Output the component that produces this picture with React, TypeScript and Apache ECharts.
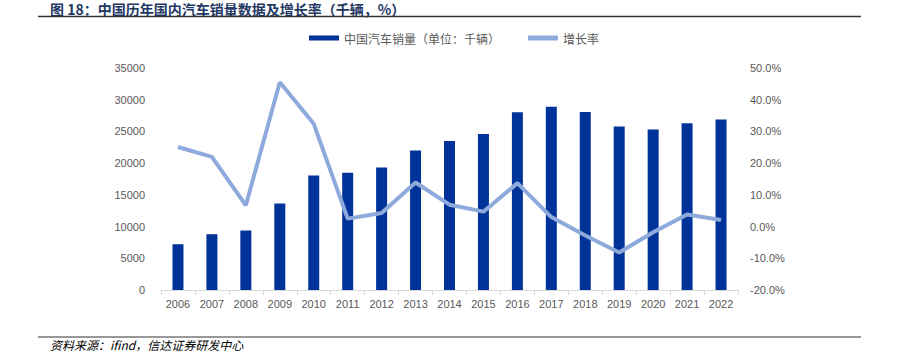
import React, { useEffect, useRef } from "react";
import * as echarts from "echarts";

const years = ["2006","2007","2008","2009","2010","2011","2012","2013","2014","2015","2016","2017","2018","2019","2020","2021","2022"];
const sales = [7216, 8791, 9381, 13645, 18062, 18505, 19306, 21984, 23492, 24598, 28028, 28879, 28081, 25769, 25311, 26275, 26864];
const growth = [25.1, 22.0, 6.7, 45.5, 32.4, 2.5, 4.3, 13.9, 6.9, 4.7, 13.7, 3.0, -2.8, -8.2, -1.8, 3.8, 2.1];
const titleText = "图 18：中国历年国内汽车销量数据及增长率（千辆，%）";
const sourceText = "资料来源：ifind，信达证券研发中心";
const barName = "中国汽车销量（单位：千辆）";
const lineName = "增长率";

export default function App() {
  const ref = useRef<HTMLDivElement>(null);
  useEffect(() => {
    document.body.style.margin = "0";
    const chart = echarts.init(ref.current!, null, { renderer: "svg" });
    const axisLabel = { color: "#595959", fontSize: 11, fontFamily: "Liberation Sans, Arial, sans-serif" };
    chart.setOption({
      animation: false,
      backgroundColor: "#fff",
      grid: { left: 161, right: 166, top: 68, bottom: 61, containLabel: false },
      legend: {
        top: 27,
        left: 304,
        itemGap: 28,
        itemWidth: 30,
        itemHeight: 5,
        textStyle: { color: "#595959", fontSize: 12, fontFamily: "Noto Sans CJK SC" },
        data: [
          { name: barName, icon: "rect" },
          { name: lineName, icon: "roundRect" },
        ],
      },
      xAxis: {
        type: "category",
        data: years,
        axisLine: { lineStyle: { color: "#D9D9D9" } },
        axisTick: { show: true, lineStyle: { color: "#D9D9D9" }, length: 5 },
        axisLabel: { ...axisLabel, margin: 8, interval: 0 },
      },
      yAxis: [
        {
          type: "value",
          min: 0,
          max: 35000,
          interval: 5000,
          splitLine: { show: false },
          axisLine: { show: false },
          axisTick: { show: false },
          axisLabel: { ...axisLabel, margin: 16, formatter: (v: number) => String(v) },
        },
        {
          type: "value",
          min: -20,
          max: 50,
          interval: 10,
          splitLine: { show: false },
          axisLine: { show: false },
          axisTick: { show: false },
          axisLabel: { ...axisLabel, margin: 12, formatter: (v: number) => v.toFixed(1) + "%" },
        },
      ],
      series: [
        {
          name: barName,
          type: "bar",
          data: sales,
          barWidth: 11,
          itemStyle: { color: "#003399" },
        },
        {
          name: lineName,
          type: "line",
          yAxisIndex: 1,
          data: growth,
          symbol: "none",
          lineStyle: { color: "#8EA9DB", width: 4 },
          itemStyle: { color: "#8EA9DB" },
        },
      ],
      graphic: [
        {
          type: "text",
          x: 50,
          y: 9,
          style: { text: titleText, fill: "#1F3864", font: "bold 14px 'Noto Sans CJK SC'", lineHeight: 14, verticalAlign: "middle" },
        },
        {
          type: "line",
          shape: { x1: 38, y1: 16.5, x2: 861, y2: 16.5 },
          style: { stroke: "#333", lineWidth: 1.5 },
        },
        {
          type: "line",
          shape: { x1: 38, y1: 337, x2: 861, y2: 337 },
          style: { stroke: "#333", lineWidth: 1 },
        },
        {
          type: "text",
          x: 50,
          y: 344,
          style: { text: sourceText, fill: "#000", font: "italic 12px 'Noto Sans CJK SC'", lineHeight: 12, verticalAlign: "middle" },
        },
      ],
    });
    return () => chart.dispose();
  }, []);
  return <div ref={ref} style={{ width: 904, height: 351 }} />;
}
